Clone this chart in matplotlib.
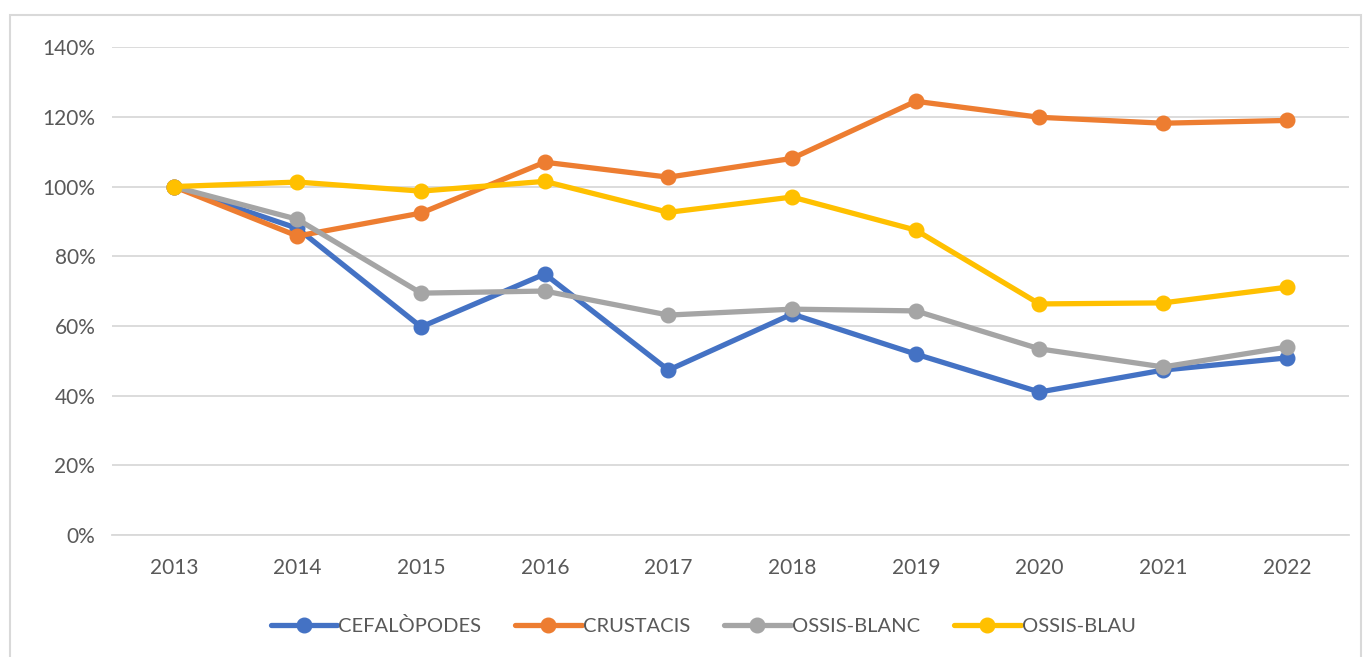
import matplotlib
matplotlib.use("Agg")
import matplotlib.pyplot as plt
import matplotlib.patches as patches
from matplotlib.ticker import FuncFormatter

years = ["2013", "2014", "2015", "2016", "2017", "2018", "2019", "2020", "2021", "2022"]

cefalopodes = [1.00, 0.88, 0.597, 0.749, 0.473, 0.634, 0.519, 0.41, 0.473, 0.508]
crustacis = [1.00, 0.858, 0.924, 1.07, 1.027, 1.081, 1.245, 1.199, 1.182, 1.19]
ossis_blanc = [1.00, 0.906, 0.694, 0.70, 0.631, 0.648, 0.643, 0.534, 0.482, 0.539]
ossis_blau = [1.00, 1.013, 0.987, 1.015, 0.926, 0.97, 0.875, 0.663, 0.666, 0.711]

series = [
    ("CEFALÒPODES", cefalopodes, "#4472C4"),
    ("CRUSTACIS", crustacis, "#ED7D31"),
    ("OSSIS-BLANC", ossis_blanc, "#A5A5A5"),
    ("OSSIS-BLAU", ossis_blau, "#FFC000"),
]

plt.rcParams['font.family'] = ['Lato', 'DejaVu Sans']

fig = plt.figure(figsize=(13.65, 6.57), dpi=100)
ax = fig.add_axes([0.082, 0.186, 0.906, 0.742])

x = list(range(len(years)))
for name, vals, col in series:
    ax.plot(x, vals, color=col, lw=3.8, marker="o", ms=10.5, label=name,
            solid_capstyle="round", solid_joinstyle="round")

ax.set_xlim(-0.5, len(years) - 0.5)
ax.set_ylim(0, 1.4)
ax.set_yticks([0, 0.2, 0.4, 0.6, 0.8, 1.0, 1.2, 1.4])
ax.yaxis.set_major_formatter(FuncFormatter(lambda v, p: f"{v*100:.0f}%"))
ax.set_xticks(x)
ax.set_xticklabels(years)
ax.grid(axis="y", color="#D9D9D9", lw=1.3)
ax.set_axisbelow(True)
for s in ["top", "right", "left"]:
    ax.spines[s].set_visible(False)
ax.spines["bottom"].set_color("#D9D9D9")
ax.spines["bottom"].set_linewidth(1.3)
ax.tick_params(length=0, labelsize=15, colors="#595959", pad=12)
ax.tick_params(axis="x", pad=17)

leg = fig.legend(loc="center", bbox_to_anchor=(0.515, 0.047), ncol=4, frameon=False,
                 fontsize=14.5, handlelength=3.3, columnspacing=1.7, handletextpad=0.05,
                 labelcolor="#595959")

fig.patches.append(patches.Rectangle((0.007, -0.01), 0.99, 0.987, transform=fig.transFigure,
                                     fill=False, edgecolor="#D9D9D9", lw=1.5))

fig.savefig("out.png", dpi=100, facecolor="white")
